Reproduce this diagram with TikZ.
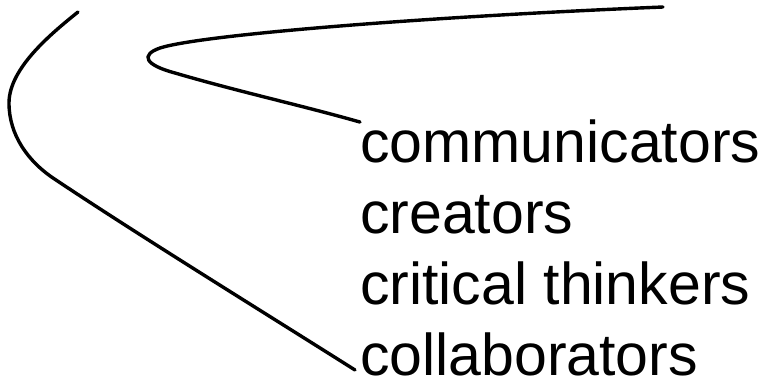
\documentclass[tikz,border=0pt]{standalone}
\usepackage{fontspec}
\setmainfont{Liberation Sans}
\usepackage{tikz}
\usetikzlibrary{calc,positioning}

\tikzset{
  lbl/.style={inner sep=0pt, anchor=base west, font=\fontsize{59}{71}\selectfont},
  curve/.style={line width=3.4pt, line cap=round, black}
}

\begin{document}
\begin{tikzpicture}[x=1pt,y=-1pt]
  \useasboundingbox (0,0) rectangle (764,377); %以像素为单位，y 轴向下
  % 四行文字，按基线逐行排列
  \node[lbl] (comm) at (360,163) {communicators};
  \node[lbl] (creat) at ([yshift=-71pt]comm.base west) {creators};
  \node[lbl] (crit) at ([yshift=-70pt]creat.base west) {critical thinkers};
  \node[lbl] (collab) at ([yshift=-71pt]crit.base west) {collaborators};
  \coordinate (outerTop) at (78,12);
  \coordinate (innerTop) at (663,7);
  % 外侧弧线：从左上方绕到 collaborators
  \draw[curve] (outerTop) .. controls (52,33) and (9,68) .. (9,103)
    .. controls (9,135) and (28,162) .. (56,180)
    .. controls (140,236) and (260,310) .. ([shift={(-5pt,5pt)}]collab.base west);
  % 内侧尖角：从右上方折回到 communicators
  \draw[curve] (innerTop) .. controls (420,17) and (200,35) .. (160,48)
    .. controls (140,55) and (145,65) .. (175,73)
    .. controls (240,92) and (300,105) .. ([yshift=-2pt]comm.north west);
\end{tikzpicture}
\end{document}
